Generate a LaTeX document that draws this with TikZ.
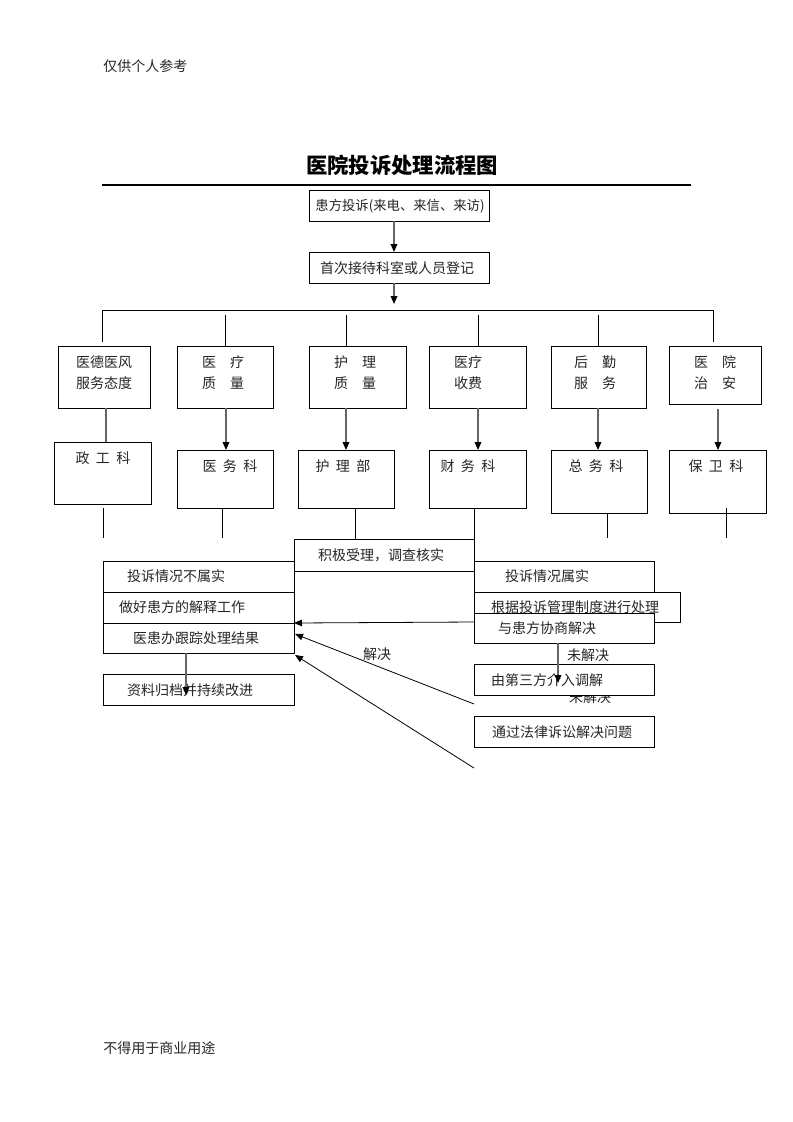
\documentclass[tikz,border=0pt]{standalone}
\usepackage{fontspec}
\setmainfont{Noto Sans CJK SC}
\usetikzlibrary{arrows.meta,calc}
\newcommand\mybox[5]{\node[box, minimum width={(#4-#2)*0.75pt}, minimum height={(#5-#3)*0.75pt}] (#1) at ({(#2+#4)/2},{(#3+#5)/2}) {};}
\begin{document}
\begin{tikzpicture}[x=0.75pt,y=-0.75pt,
  box/.style={draw=black, line width=0.65pt, fill=white, inner sep=0pt, outer sep=0pt},
  lbl/.style={inner sep=0pt, text=black!85, font=\fontsize{10.5}{12}\selectfont},
  ln/.style={line width=0.65pt, draw=black},
  gln/.style={line width=0.9pt, draw=black!60},
  arr/.style={line width=0.9pt, draw=black!60, -{Triangle[length=6pt,width=5pt,color=black]}},
  darr/.style={line width=0.6pt, draw=black, -{Triangle[length=6pt,width=5pt,color=black]}}]
\fill[white] (0,0) rectangle (793,1122);
\useasboundingbox (0,0) rectangle (793,1122);

% header / title / footer
\node[lbl, anchor=west] (hdr) at (103,66) {仅供个人参考};
\node[lbl, anchor=west] (ftr) at (103,1048) {不得用于商业用途};
\node[inner sep=0pt, font=\fontsize{16}{18}\selectfont\bfseries] (title) at (402,165) {医院投诉处理流程图};
\coordinate (hl) at (102,185);
\coordinate (hr) at (691,185);
\draw[line width=0.8pt] (hl) -- (hr);

% top boxes
\mybox{b1}{309}{190}{489}{221}
\node[lbl, font=\fontsize{10}{12}\selectfont] (t1) at (400,206) {患方投诉(来电、来信、来访)};
\mybox{b2}{309}{252}{489}{283}
\node[lbl] (t2) at (397,268) {首次接待科室或人员登记};
\draw[arr] (b1.south -| 394,0) -- (b2.north -| 394,0);
\coordinate (brk) at (394,304);
\draw[arr] (b2.south -| 394,0) -- (brk);

% bracket
\coordinate (bl) at (102,342);
\coordinate (br) at (713,342);
\draw[ln] (bl) -- (102,310.5) -- (713,310.5) -- (br);

% category boxes
\mybox{d1}{58}{346}{150}{408}
\mybox{d2}{177}{346}{273}{408}
\mybox{d3}{309}{346}{406}{408}
\mybox{d4}{429}{346}{526}{408}
\mybox{d5}{551}{346}{646}{408}
\mybox{d6}{669}{346}{761}{404}
\draw[ln] (225,315) -- (d2.north -| 225,0);
\draw[ln] (346,315) -- (d3.north -| 346,0);
\draw[ln] (478,315) -- (d4.north -| 478,0);
\draw[ln] (598,315) -- (d5.north -| 598,0);

\node[lbl] (c1a) at (104,362) {医德医风};
\node[lbl] (c1b) at (104,383) {服务态度};
\node[lbl] (c2a) at (223,362) {医\hspace{1em}疗};
\node[lbl] (c2b) at (223,383) {质\hspace{1em}量};
\node[lbl] (c3a) at (355,362) {护\hspace{1em}理};
\node[lbl] (c3b) at (355,383) {质\hspace{1em}量};
\node[lbl] (c4a) at (468,362) {医疗};
\node[lbl] (c4b) at (468,383) {收费};
\node[lbl] (c5a) at (595,362) {后\hspace{1em}勤};
\node[lbl] (c5b) at (595,383) {服\hspace{1em}务};
\node[lbl] (c6a) at (715,362) {医\hspace{1em}院};
\node[lbl] (c6b) at (715,383) {治\hspace{1em}安};

% department boxes
\mybox{k1}{54}{442}{151}{504}
\mybox{k2}{177}{450}{273}{508}
\mybox{k3}{298}{450}{394}{508}
\mybox{k4}{429}{450}{526}{508}
\mybox{k5}{551}{450}{647}{513}
\mybox{k6}{669}{450}{766}{513}
\node[lbl] (s1) at (103,458) {政\hspace{0.45em}工\hspace{0.45em}科};
\node[lbl] (s2) at (230,466) {医\hspace{0.45em}务\hspace{0.45em}科};
\node[lbl] (s3) at (343,466) {护\hspace{0.45em}理\hspace{0.45em}部};
\node[lbl] (s4) at (468,466) {财\hspace{0.45em}务\hspace{0.45em}科};
\node[lbl] (s5) at (596,466) {总\hspace{0.45em}务\hspace{0.45em}科};
\node[lbl] (s6) at (716,466) {保\hspace{0.45em}卫\hspace{0.45em}科};

\draw[gln] (d1.south -| 106,0) -- (k1.north -| 106,0);
\draw[arr] (d2.south -| 226,0) -- (k2.north -| 226,0);
\draw[arr] (d3.south -| 346,0) -- (k3.north -| 346,0);
\draw[arr] (d4.south -| 478,0) -- (k4.north -| 478,0);
\draw[arr] (d5.south -| 598,0) -- (k5.north -| 598,0);
\coordinate (d6o) at (718,409);
\draw[arr] (d6o) -- (k6.north -| 718,0);

% lines below departments
\draw[ln] (k1.south -| 103,0) ++(0,4) -- (103,538);
\draw[ln] (k2.south -| 222,0) -- (222,538);
\draw[ln] (k5.south -| 607,0) -- (607,538);
\draw[ln] (726,508) -- (726,538);

% investigation box
\mybox{jj}{294}{539}{474}{571}
\node[lbl] (tj) at (381,555) {积极受理，调查核实};
\draw[ln] (k3.south -| 355,0) -- (jj.north -| 355,0);
\draw[ln] (k4.south -| 474,0) -- (jj.north east);

% left branch
\mybox{n1}{103}{561}{294}{592}
\mybox{n2}{103}{592}{294}{623}
\mybox{n3}{103}{623}{294}{653}
\mybox{n4}{103}{674}{294}{705}
\node[lbl] (tn1) at (176,576) {投诉情况不属实};
\node[lbl] (tn2) at (182,607) {做好患方的解释工作};
\node[lbl] (tn3) at (196,638) {医患办跟踪处理结果};
\node[lbl] (tn4) at (190,690) {资料归档并持续改进};
\coordinate (n4i) at (186,695);
\draw[arr] (n3.south -| 186,0) -- (n4i);

% right branch
\mybox{y1}{474}{561}{654}{592}
\node[lbl] (ty1) at (547,576) {投诉情况属实};
\mybox{y2}{474}{592}{680}{622}
\node[lbl] (ty2) at (575,607) {根据投诉管理制度进行处理};
\mybox{y3}{474}{613}{654}{643}
\node[lbl] (ty3) at (547,628) {与患方协商解决};
\node[lbl] (u2) at (590,697) {未解决};
\mybox{y4}{474}{664}{654}{695}
\node[lbl] (ty4) at (547,680) {由第三方介入调解};
\mybox{y5}{474}{716}{654}{747}
\node[lbl] (ty5) at (562,732) {通过法律诉讼解决问题};
\node[lbl] (u1) at (588,655) {未解决};
\node[lbl] (jv) at (377,654) {解决};

\coordinate (y4i) at (558,683);
\draw[arr] (y3.south -| 558,0) -- (y4i);
\draw[darr] (y2.south west) -- (n2.south east);
\coordinate (e1) at (474,704);
\coordinate (e2) at (474,768);
\draw[darr] (e1) -- ($(n3.east)+(1,-4)$);
\draw[darr] (e2) -- ($(n3.south east)+(1,2)$);
\end{tikzpicture}
\end{document}
